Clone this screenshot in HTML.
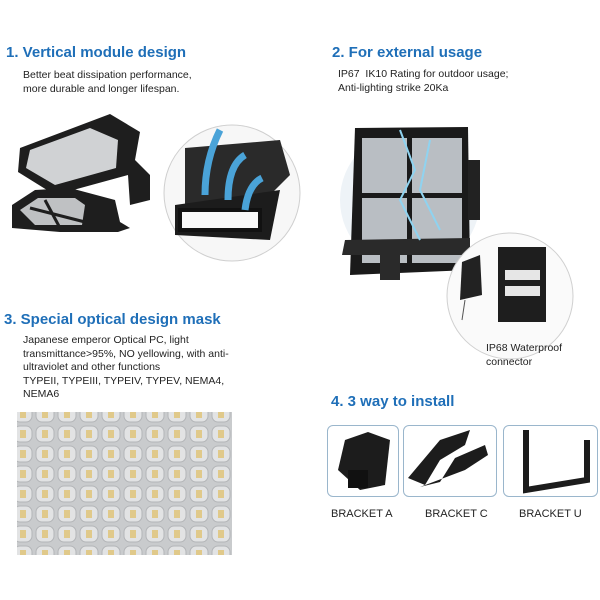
<!DOCTYPE html>
<html><head><style>
body{margin:0;width:600px;height:600px;background:#fff;position:relative;overflow:hidden;font-family:"Liberation Sans",sans-serif;}
.t{position:absolute;color:#1f6fb8;font-weight:bold;font-size:15px;white-space:nowrap;}
.p{position:absolute;color:#222;font-size:10.5px;line-height:13.5px;white-space:nowrap;}
.box{position:absolute;border:1px solid #9ab6cc;border-radius:6px;background:#fff;}
.lbl{position:absolute;font-size:11px;color:#222;}
</style></head><body>
<div class="t" style="left:6px;top:44px">1. Vertical module design</div>
<div class="p" style="left:23px;top:69px">Better beat dissipation performance,<br>more durable and longer lifespan.</div>
<div class="t" style="left:332px;top:44px">2. For external usage</div>
<div class="p" style="left:338px;top:68px">IP67&nbsp; IK10 Rating for outdoor usage;<br>Anti-lighting strike 20Ka</div>
<div class="t" style="left:4px;top:311px">3. Special optical design mask</div>
<div class="p" style="left:23px;top:334px">Japanese emperor Optical PC, light<br>transmittance&gt;95%, NO yellowing, with anti-<br>ultraviolet and other functions<br>TYPEII, TYPEIII, TYPEIV, TYPEV, NEMA4,<br>NEMA6</div>
<div class="t" style="left:331px;top:393px">4. 3 way to install</div>

<svg width="600" height="600" style="position:absolute;left:0;top:0">
<defs>
<pattern id="led" x="17" y="412" width="22" height="20" patternUnits="userSpaceOnUse">
<rect width="22" height="20" fill="#c9cbcd"/>
<rect x="2" y="2" width="18" height="16" rx="6" fill="#e2e3e4" stroke="#b3b5b8"/>
<rect x="8" y="6" width="6" height="8" fill="#e0c98a"/>
</pattern>
</defs>
<!-- lamp 1 -->
<polygon points="20,148 110,114 140,132 135,160 150,175 150,200 130,205 128,175 55,195 18,172" fill="#1e1e1e"/>
<polygon points="30,150 90,128 118,140 116,168 55,185 26,168" fill="#d0d2d4"/>
<polygon points="12,205 35,190 70,188 115,200 120,222 130,228 118,232 60,232 12,228" fill="#1e1e1e"/>
<polygon points="20,210 38,198 75,198 85,205 82,225 35,225" fill="#bfc1c3"/>
<line x1="30" y1="208" x2="85" y2="222" stroke="#1e1e1e" stroke-width="3"/>
<line x1="45" y1="200" x2="60" y2="228" stroke="#1e1e1e" stroke-width="3"/>
<!-- circle 1 -->
<circle cx="232" cy="193" r="68" fill="#f7f7f7" stroke="#cfcfcf"/>
<polygon points="185,148 280,140 290,175 270,195 185,205" fill="#2a2a2a"/>
<polygon points="175,205 280,190 270,240 175,235" fill="#1c1c1c"/>
<rect x="180" y="210" width="80" height="20" fill="#f7f7f7" stroke="#111" stroke-width="4"/>
<path d="M205 195 Q205 160 220 130" stroke="#4aa3d8" stroke-width="7" fill="none"/>
<path d="M228 200 Q228 165 245 155" stroke="#4aa3d8" stroke-width="7" fill="none"/>
<path d="M245 210 Q248 185 262 178" stroke="#4aa3d8" stroke-width="7" fill="none"/>
<!-- lamp 2 -->
<circle cx="410" cy="200" r="70" fill="#eef3f7"/>
<polygon points="355,128 468,127 470,270 350,275" fill="#1a1a1a"/>
<rect x="362" y="138" width="45" height="55" fill="#b9bec3"/>
<rect x="412" y="138" width="50" height="55" fill="#b9bec3"/>
<rect x="362" y="198" width="45" height="65" fill="#b9bec3"/>
<rect x="412" y="198" width="50" height="65" fill="#b9bec3"/>
<rect x="468" y="160" width="12" height="60" fill="#222"/>
<polygon points="345,240 470,238 470,255 342,255" fill="#2a2a2a"/>
<rect x="380" y="255" width="20" height="25" fill="#2a2a2a"/>
<path d="M400 130 L415 170 L400 200 L420 240 M430 140 L420 190 L440 230" stroke="#8fd3f0" stroke-width="2" fill="none"/>
<!-- circle 2 -->
<circle cx="510" cy="296" r="63" fill="#fafafa" stroke="#d0d0d0"/>
<polygon points="462,262 480,255 482,295 460,300" fill="#222"/>
<rect x="498" y="247" width="48" height="75" fill="#1e1e1e"/>
<rect x="505" y="270" width="35" height="10" fill="#e6e6e6"/>
<rect x="505" y="286" width="35" height="10" fill="#e6e6e6"/>
<line x1="465" y1="300" x2="462" y2="320" stroke="#555"/>
</svg>
<div class="p" style="left:486px;top:342px;font-size:10.5px">IP68 Waterproof<br>connector</div>
<div style="position:absolute;left:17px;top:412px;width:215px;height:143px;">
<svg width="215" height="143"><rect width="215" height="143" fill="url(#led)"/></svg></div>

<div class="box" style="left:327px;top:425px;width:70px;height:70px"></div>
<div class="box" style="left:403px;top:425px;width:92px;height:70px"></div>
<div class="box" style="left:503px;top:425px;width:93px;height:70px"></div>
<svg width="600" height="600" style="position:absolute;left:0;top:0">
<polygon points="345,440 368,432 390,440 385,485 360,490 338,470" fill="#1c1c1c"/>
<rect x="348" y="470" width="20" height="18" fill="#111"/>
<path d="M408 478 L440 440 L470 430 L465 445 L440 460 L425 485 Z" fill="#1c1c1c"/>
<path d="M440 482 L455 458 L485 445 L488 455 L465 470 L420 487 Z" fill="#1c1c1c"/>
<path d="M526 430 L526 490 L587 480 L587 440" stroke="#1c1c1c" stroke-width="6" fill="none"/>
</svg>
<div class="lbl" style="left:331px;top:508px">BRACKET A</div>
<div class="lbl" style="left:425px;top:508px">BRACKET C</div>
<div class="lbl" style="left:519px;top:508px">BRACKET U</div>
</body></html>
